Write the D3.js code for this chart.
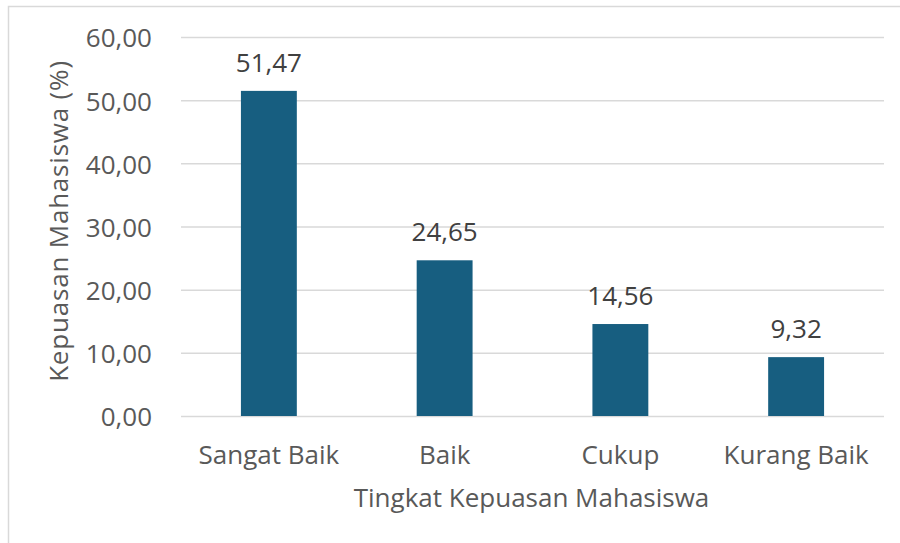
<!DOCTYPE html>
<html lang="en">
  <head>
    <meta charset="utf-8">
    <title>Kepuasan Mahasiswa</title>
    <script src="https://d3js.org/d3.v7.js"></script>
    <style>
      body { margin: 0; background: #fff; }
      text { font-family: "Open Sans", sans-serif; fill: #595959; }
    </style>
  </head>
  <body>
    <script type="text/javascript">
      // data
      var categories = ["Sangat Baik", "Baik", "Cukup", "Kurang Baik"];
      var values = [51.47, 24.65, 14.56, 9.32];
      var yTicks = [0, 10, 20, 30, 40, 50, 60];

      var w = 900, h = 543;
      var margin = {top: 37, right: 16, bottom: 127, left: 181};
      var innerWidth = w - margin.left - margin.right;
      var innerHeight = h - margin.top - margin.bottom;
      var fs = 26;

      var fmt = function (d) { return d.toFixed(2).replace(".", ","); };

      var xScale = d3.scaleBand()
          .domain(categories)
          .range([0, innerWidth])
          .paddingInner(0.682)
          .paddingOuter(0.341);

      var yScale = d3.scaleLinear()
          .domain([0, 60])
          .range([innerHeight, 0]);

      var svg = d3.select("body").append("svg")
          .attr("width", w)
          .attr("height", h);

      // chart frame
      svg.append("rect")
          .attr("x", 8.5).attr("y", 6.5)
          .attr("width", w + 10).attr("height", h + 10)
          .attr("fill", "none")
          .attr("stroke", "#d9d9d9")
          .attr("stroke-width", 1.5);

      var g = svg.append("g")
          .attr("transform", `translate(${margin.left}, ${margin.top})`);

      // gridlines + y labels
      var yAxis = d3.axisLeft(yScale)
          .tickValues(yTicks)
          .tickSize(-innerWidth)
          .tickPadding(29)
          .tickFormat(fmt);

      var ya = g.append("g").call(yAxis);
      ya.select(".domain").remove();
      ya.selectAll("line").attr("stroke", "#d9d9d9").attr("stroke-width", 1.5);
      ya.selectAll("text")
          .attr("font-size", fs)
          .attr("font-family", "Open Sans, sans-serif")
          .attr("dy", "0.38em")
          .style("fill", "#595959");

      // bars
      g.selectAll("rect.bar")
        .data(values)
        .enter().append("rect")
          .attr("class", "bar")
          .attr("x", (d, i) => xScale(categories[i]))
          .attr("y", d => yScale(d))
          .attr("width", xScale.bandwidth())
          .attr("height", d => innerHeight - yScale(d))
          .attr("fill", "#175E80");

      // data labels
      g.selectAll("text.lbl")
        .data(values)
        .enter().append("text")
          .attr("class", "lbl")
          .attr("x", (d, i) => xScale(categories[i]) + xScale.bandwidth() / 2)
          .attr("y", d => yScale(d) - 19)
          .attr("text-anchor", "middle")
          .attr("font-size", fs)
          .style("fill", "#404040")
          .text(fmt);

      // x axis labels
      var xAxis = d3.axisBottom(xScale).tickSize(0);
      var xa = g.append("g")
          .attr("transform", `translate(0, ${innerHeight})`)
          .call(xAxis);
      xa.select(".domain").remove();
      xa.selectAll("text")
          .attr("y", 48)
          .attr("dy", 0)
          .attr("font-size", fs)
          .attr("font-family", "Open Sans, sans-serif")
          .style("fill", "#595959");

      // axis titles
      svg.append("text")
          .attr("x", margin.left + innerWidth / 2 - 1)
          .attr("y", 507)
          .attr("text-anchor", "middle")
          .attr("font-size", fs)
          .text("Tingkat Kepuasan Mahasiswa");

      svg.append("text")
          .attr("transform", `translate(68, 221) rotate(-90)`)
          .attr("text-anchor", "middle")
          .attr("font-size", fs)
          .attr("letter-spacing", 0.8)
          .text("Kepuasan Mahasiswa (%)");
    </script>
  </body>
</html>
